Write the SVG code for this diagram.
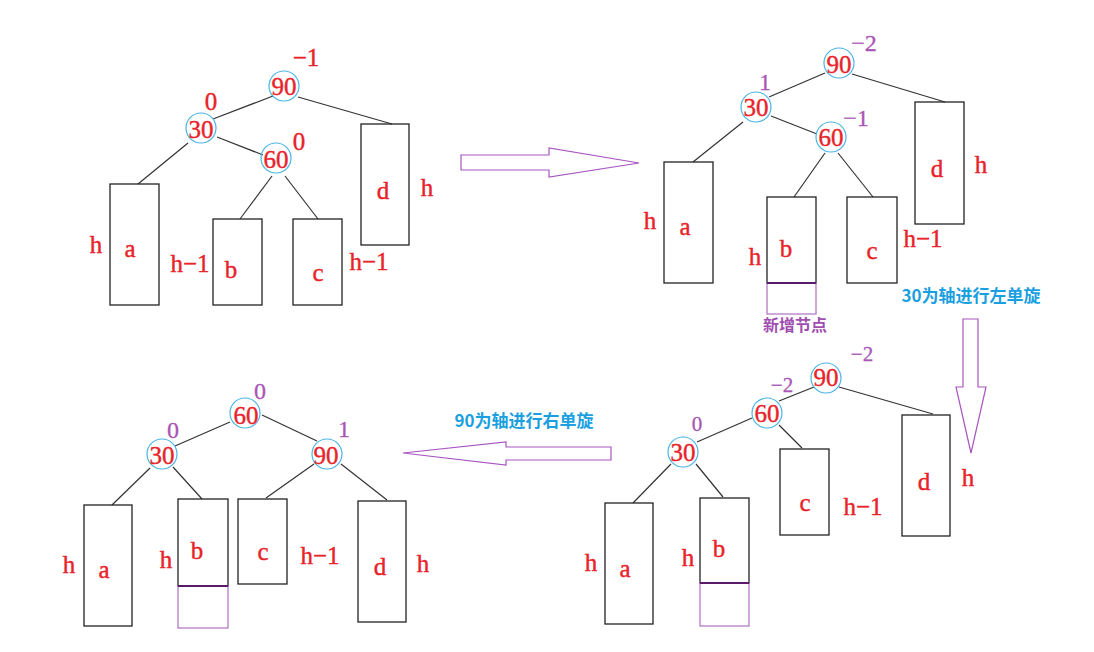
<svg xmlns="http://www.w3.org/2000/svg" width="1094" height="652" viewBox="0 0 1094 652">
<style>
.bg{fill:#ffffff}
.cir{fill:none;stroke:#4ab4e4;stroke-width:1.2}
.box{fill:none;stroke:#222;stroke-width:1.3}
.nb{fill:none;stroke:#b070c4;stroke-width:1.2}
.bot{stroke:#5a1a6a;stroke-width:2}
.ln{stroke:#333;stroke-width:1.2;fill:none}
.t{font-family:"Liberation Serif","DejaVu Serif",serif;font-size:25px;fill:#e8232a;stroke:#e8232a;stroke-width:0.4;text-anchor:middle}
.bf{font-family:"Liberation Serif","DejaVu Serif",serif;font-size:24px;fill:#a855b5;stroke:#a855b5;stroke-width:0.3;text-anchor:middle}
.bfs{font-size:21px}
.arr{fill:#ffffff;stroke:#a855c0;stroke-width:1.2}
.cap{font-family:"Noto Sans CJK SC","Noto Sans",sans-serif;font-weight:bold;font-size:17px;fill:#1a9fe0;text-anchor:middle}
.new{font-family:"Noto Sans CJK SC","Noto Sans",sans-serif;font-weight:bold;font-size:16px;fill:#a04db0;text-anchor:middle}
</style>
<rect class="bg" width="1094" height="652"/>

<g id="connectors">
  <line class="ln" x1="273" y1="96" x2="213" y2="119"/>
  <line class="ln" x1="298" y1="97" x2="392" y2="124"/>
  <line class="ln" x1="188" y1="143" x2="138" y2="184"/>
  <line class="ln" x1="217" y1="137" x2="263" y2="155"/>
  <line class="ln" x1="272" y1="176" x2="240" y2="219"/>
  <line class="ln" x1="285" y1="176" x2="318" y2="219"/>
  <line class="ln" x1="825" y1="73" x2="769" y2="97"/>
  <line class="ln" x1="852" y1="74" x2="945" y2="102"/>
  <line class="ln" x1="743" y1="122" x2="693" y2="162"/>
  <line class="ln" x1="771" y1="116" x2="817" y2="134"/>
  <line class="ln" x1="825" y1="153" x2="794" y2="197"/>
  <line class="ln" x1="838" y1="153" x2="873" y2="197"/>
  <line class="ln" x1="814" y1="387" x2="779" y2="401"/>
  <line class="ln" x1="839" y1="387" x2="933" y2="414"/>
  <line class="ln" x1="752" y1="418" x2="697" y2="442"/>
  <line class="ln" x1="779" y1="425" x2="802" y2="448"/>
  <line class="ln" x1="671" y1="464" x2="633" y2="503"/>
  <line class="ln" x1="696" y1="464" x2="723" y2="497"/>
  <line class="ln" x1="230" y1="422" x2="175" y2="446"/>
  <line class="ln" x1="262" y1="415" x2="317" y2="441"/>
  <line class="ln" x1="150" y1="468" x2="112" y2="505"/>
  <line class="ln" x1="173" y1="467" x2="202" y2="499"/>
  <line class="ln" x1="314" y1="464" x2="266" y2="498"/>
  <line class="ln" x1="341" y1="464" x2="387" y2="500"/>
</g>

<g id="arrows">
  <polygon class="arr" points="461,155 549,155 549,148 639,163 549,177 549,170 461,170"/>
  <polygon class="arr" points="963,319 978,319 978,387 986,387 971,453 956,387 963,387"/>
  <polygon class="arr" points="611,447 506,447 506,442 403,453 506,465 506,460 611,460"/>
  <text class="cap" x="971" y="302">30为轴进行左单旋</text>
  <text class="cap" x="524" y="427">90为轴进行右单旋</text>
</g>

<g id="p1-n90"><circle class="cir" cx="284" cy="86" r="15"/><text class="t" x="284" y="95">90</text><text class="t" x="306" y="66">−1</text></g>
<g id="p1-n30"><circle class="cir" cx="201" cy="128" r="15"/><text class="t" x="201" y="138">30</text><text class="t" x="211" y="110">0</text></g>
<g id="p1-n60"><circle class="cir" cx="276" cy="158" r="15"/><text class="t" x="276" y="168">60</text><text class="t" x="299" y="150">0</text></g>
<g id="p1-a"><rect class="box" x="110" y="184" width="49" height="121"/><text class="t" x="130" y="257">a</text><text class="t" x="96" y="253">h</text><text class="t" x="190" y="272">h−1</text></g>
<g id="p1-b"><rect class="box" x="213" y="219" width="49" height="86"/><text class="t" x="231" y="278">b</text></g>
<g id="p1-c"><rect class="box" x="293" y="219" width="49" height="86"/><text class="t" x="318" y="281">c</text><text class="t" x="369" y="270">h−1</text></g>
<g id="p1-d"><rect class="box" x="361" y="124" width="48" height="121"/><text class="t" x="383" y="199">d</text><text class="t" x="427" y="196">h</text></g>

<g id="p2-n90"><circle class="cir" cx="839" cy="63" r="15"/><text class="t" x="839" y="73">90</text><text class="bf" x="864" y="51">−2</text></g>
<g id="p2-n30"><circle class="cir" cx="756" cy="107" r="15"/><text class="t" x="756" y="116">30</text><text class="bf" x="765" y="90">1</text></g>
<g id="p2-n60"><circle class="cir" cx="831" cy="137" r="15"/><text class="t" x="831" y="146">60</text><text class="bf" x="856" y="126">−1</text></g>
<g id="p2-a"><rect class="box" x="664" y="162" width="49" height="121"/><text class="t" x="685" y="235">a</text><text class="t" x="650" y="229">h</text></g>
<g id="p2-b"><rect class="box" x="767" y="197" width="49" height="86"/><rect class="nb" x="767" y="283" width="49" height="31"/><line class="bot" x1="767" y1="283" x2="816" y2="283"/><text class="t" x="786" y="257">b</text><text class="t" x="755" y="265">h</text><text class="new" x="795" y="331">新增节点</text></g>
<g id="p2-c"><rect class="box" x="847" y="197" width="50" height="86"/><text class="t" x="872" y="259">c</text><text class="t" x="923" y="247">h−1</text></g>
<g id="p2-d"><rect class="box" x="915" y="102" width="49" height="122"/><text class="t" x="937" y="177">d</text><text class="t" x="981" y="173">h</text></g>

<g id="p4-n90"><circle class="cir" cx="826" cy="378" r="15"/><text class="t" x="826" y="386">90</text><text class="bf bfs" x="862" y="361">−2</text></g>
<g id="p4-n60"><circle class="cir" cx="767" cy="413" r="15"/><text class="t" x="767" y="422">60</text><text class="bf bfs" x="782" y="392">−2</text></g>
<g id="p4-n30"><circle class="cir" cx="683" cy="452" r="15"/><text class="t" x="683" y="461">30</text><text class="bf bfs" x="697" y="431">0</text></g>
<g id="p4-a"><rect class="box" x="605" y="503" width="48" height="121"/><text class="t" x="625" y="577">a</text><text class="t" x="591" y="571">h</text></g>
<g id="p4-b"><rect class="box" x="700" y="498" width="49" height="85"/><rect class="nb" x="700" y="583" width="49" height="43"/><line class="bot" x1="700" y1="583" x2="749" y2="583"/><text class="t" x="719" y="557">b</text><text class="t" x="688" y="566">h</text></g>
<g id="p4-c"><rect class="box" x="780" y="449" width="49" height="86"/><text class="t" x="805" y="511">c</text><text class="t" x="863" y="515">h−1</text></g>
<g id="p4-d"><rect class="box" x="902" y="415" width="48" height="121"/><text class="t" x="924" y="490">d</text><text class="t" x="968" y="486">h</text></g>

<g id="p3-n60"><circle class="cir" cx="245" cy="413" r="15"/><text class="t" x="246" y="424">60</text><text class="bf" x="260" y="399">0</text></g>
<g id="p3-n30"><circle class="cir" cx="162" cy="454" r="15"/><text class="t" x="162" y="464">30</text><text class="bf" x="173" y="438">0</text></g>
<g id="p3-n90"><circle class="cir" cx="327" cy="454" r="15"/><text class="t" x="326" y="464">90</text><text class="bf" x="344" y="437">1</text></g>
<g id="p3-a"><rect class="box" x="84" y="505" width="48" height="121"/><text class="t" x="104" y="578">a</text><text class="t" x="69" y="573">h</text></g>
<g id="p3-b"><rect class="box" x="178" y="499" width="50" height="87"/><rect class="nb" x="178" y="586" width="50" height="42"/><line class="bot" x1="178" y1="586" x2="228" y2="586"/><text class="t" x="197" y="559">b</text><text class="t" x="166" y="568">h</text></g>
<g id="p3-c"><rect class="box" x="238" y="499" width="49" height="85"/><text class="t" x="263" y="560">c</text><text class="t" x="320" y="564">h−1</text></g>
<g id="p3-d"><rect class="box" x="358" y="501" width="48" height="121"/><text class="t" x="380" y="575">d</text><text class="t" x="423" y="572">h</text></g>
</svg>
